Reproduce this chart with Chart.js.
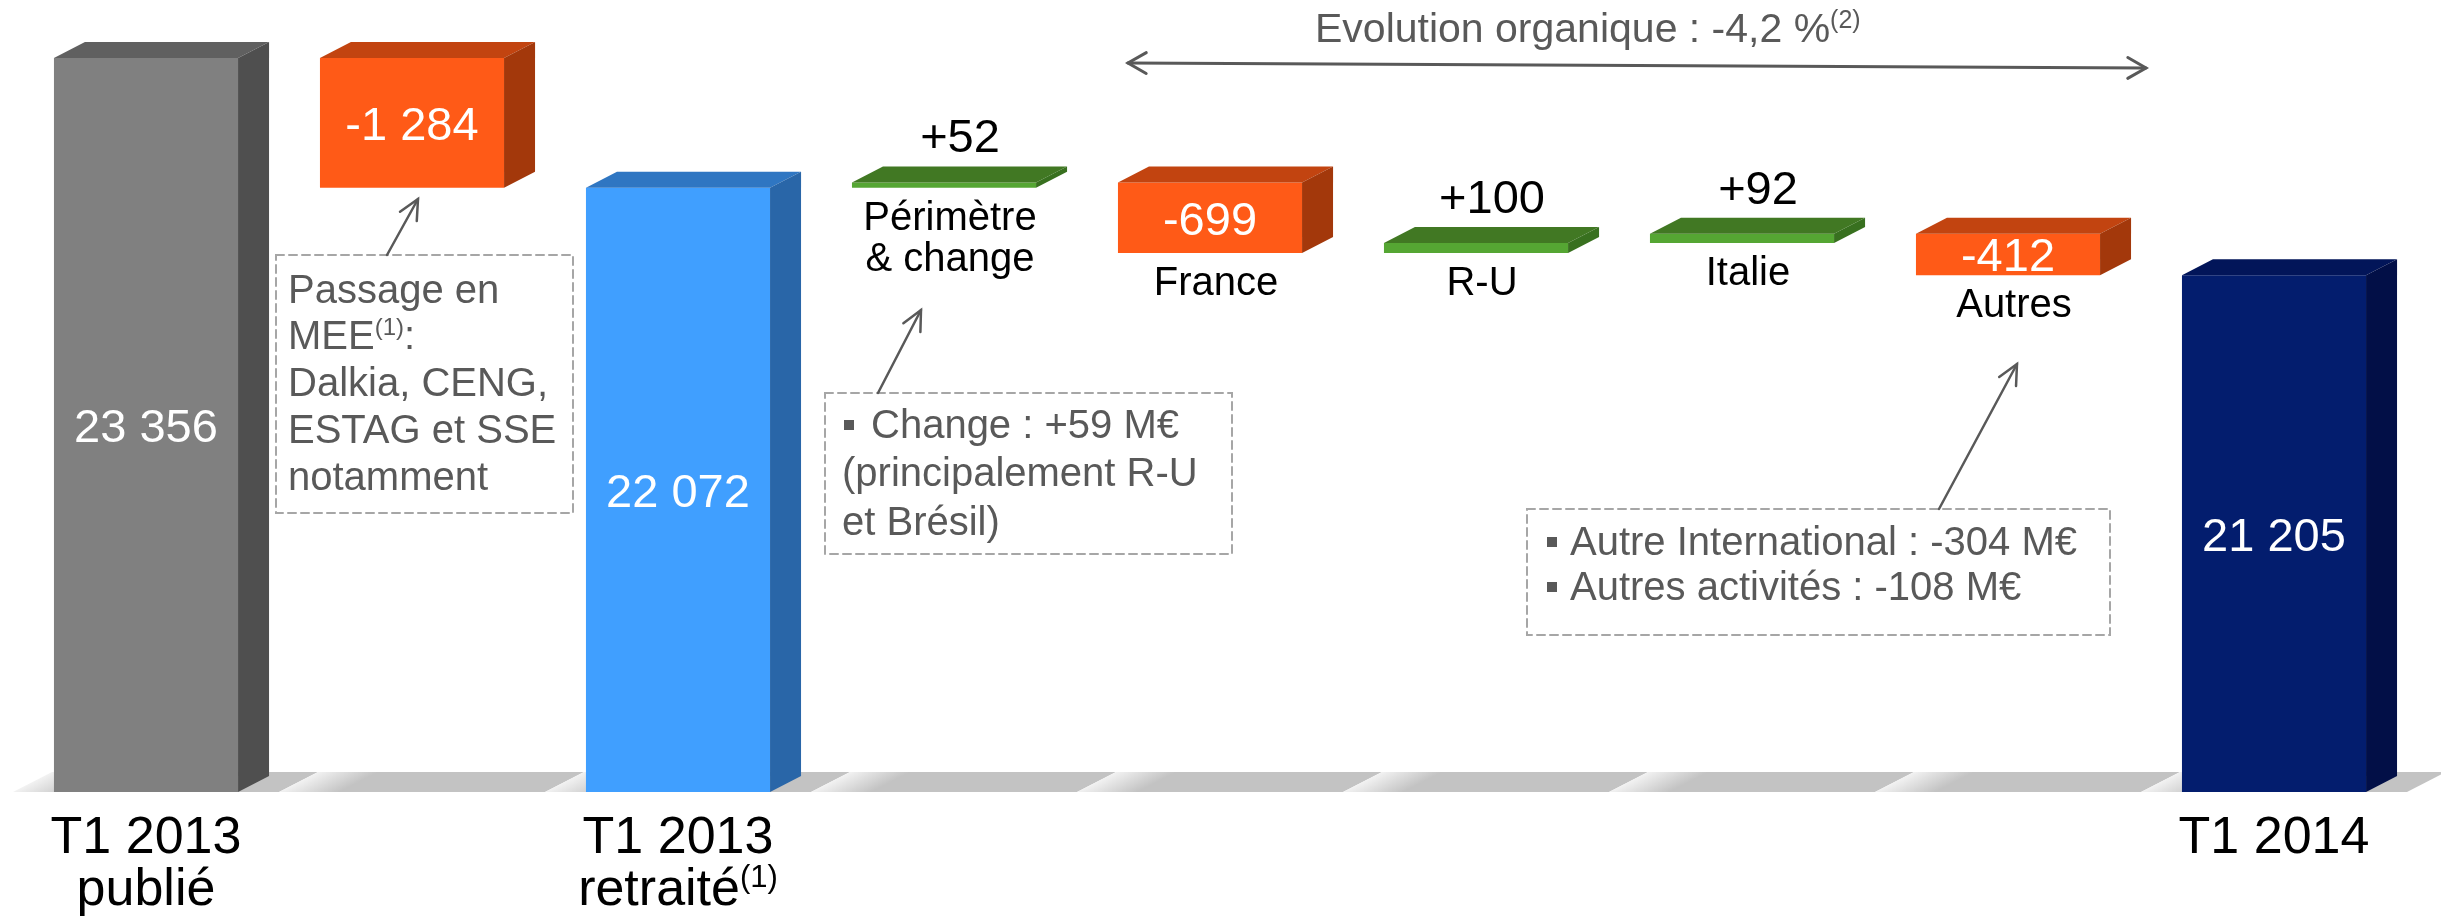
<!DOCTYPE html>
<html>
<head>
<meta charset="utf-8">
<script src="https://cdn.jsdelivr.net/npm/chart.js@4.4.0/dist/chart.umd.min.js"></script>
<style>
  html, body { margin: 0; padding: 0; background: #fff; }
  #wrap { width: 2441px; height: 918px; position: relative; }
</style>
</head>
<body>
<div id="wrap"><canvas id="myChart"></canvas></div>
<script>
// values (M€)
const categories = ['T1 2013 publié', 'Passage en MEE', 'T1 2013 retraité', 'Périmètre & change', 'France', 'R-U', 'Italie', 'Autres', 'T1 2014']
const totals = [23356, null, 22072, null, null, null, null, null, 21205]
const variations = [null, -1284, null, 52, -699, 100, 92, -412, null]

// labels
const stepLabels = [null, null, null, ['Périmètre', '& change'], ['France'], ['R-U'], ['Italie'], ['Autres'], null]
const bottomLabels = [
  [[['T1 2013']], [['publié']]],
  null,
  [[['T1 2013']], [['retraité'], ['(1)', true]]],
  null, null, null, null, null,
  [[['T1 2014']]]
]
const yMin = 16090
const yMax = 23930

// colours: front / top / side
const frontColors = ['#808080', '#ff5a17', '#409fff', '#55a633', '#ff5a17', '#55a633', '#55a633', '#ff5a17', '#031d6e']
const topColors = ['#606060', '#c24410', '#2f76c2', '#417823', '#c24410', '#417823', '#417823', '#c24410', '#021559']
const sideColors = ['#4f4f4f', '#a3380b', '#2966a8', '#38701f', '#a3380b', '#38701f', '#38701f', '#a3380b', '#020f47']

const FONT = "'Liberation Sans', Arial, Helvetica, sans-serif"
const GREY = '#595959'
const DX = 31, DY = 16

// floating bars for the waterfall
let level = 0
const barData = categories.map((c, i) => {
  if (totals[i] !== null) { level = totals[i]; return totals[i] }
  const start = level
  level += variations[i]
  return [start, level]
})

function fmt(v, signed) {
  const s = Math.abs(v).toString().replace(/\B(?=(\d{3})+(?!\d))/g, ' ')
  return (v < 0 ? '-' : (signed ? '+' : '')) + s
}

// text with superscript parts: [[text, sup], ...]
function drawParts(ctx, parts, x, y, size, color, align) {
  const supSize = Math.round(size * 0.6)
  let total = 0
  const widths = parts.map(p => {
    ctx.font = (p[1] ? supSize : size) + 'px ' + FONT
    const w = ctx.measureText(p[0]).width
    total += w
    return w
  })
  let cx = align === 'center' ? x - total / 2 : x
  ctx.fillStyle = color
  ctx.textAlign = 'left'
  ctx.textBaseline = 'alphabetic'
  parts.forEach((p, k) => {
    ctx.font = (p[1] ? supSize : size) + 'px ' + FONT
    ctx.fillText(p[0], cx, p[1] ? y - size * 0.34 : y)
    cx += widths[k]
  })
}

function poly(ctx, pts, color) {
  ctx.beginPath()
  ctx.moveTo(pts[0][0], pts[0][1])
  for (let k = 1; k < pts.length; k++) ctx.lineTo(pts[k][0], pts[k][1])
  ctx.closePath()
  ctx.fillStyle = color
  ctx.fill()
}

function arrowHead(ctx, x1, y1, x2, y2, len, spread) {
  const a = Math.atan2(y2 - y1, x2 - x1)
  ctx.beginPath()
  ctx.moveTo(x2 - len * Math.cos(a - spread), y2 - len * Math.sin(a - spread))
  ctx.lineTo(x2, y2)
  ctx.lineTo(x2 - len * Math.cos(a + spread), y2 - len * Math.sin(a + spread))
  ctx.stroke()
}

// annotation boxes (layout in px)
const notes = [
  { box: [276, 255, 573, 513], from: [387, 255], to: [418, 199], lines: [
    { x: 288, y: 303, parts: [['Passage en']] },
    { x: 288, y: 349, parts: [['MEE'], ['(1)', true], [':']] },
    { x: 288, y: 396, parts: [['Dalkia, CENG,']] },
    { x: 288, y: 443, parts: [['ESTAG et SSE']] },
    { x: 288, y: 490, parts: [['notamment']] }
  ] },
  { box: [825, 393, 1232, 554], from: [878, 393], to: [921, 310], lines: [
    { x: 871, y: 438, bullet: 844, parts: [['Change : +59 M€']] },
    { x: 842, y: 486, parts: [['(principalement R-U']] },
    { x: 842, y: 535, parts: [['et Brésil)']] }
  ] },
  { box: [1527, 509, 2110, 635], from: [1939, 509], to: [2017, 364], lines: [
    { x: 1570, y: 555, bullet: 1547, parts: [['Autre International : -304 M€']] },
    { x: 1570, y: 600, bullet: 1547, parts: [['Autres activités : -108 M€']] }
  ] }
]

const floorPlugin = {
  id: 'floor',
  beforeDatasetsDraw(chart) {
    const { ctx, chartArea: a } = chart
    const w = (a.right - a.left) / categories.length
    const yb = a.bottom, yt = a.bottom - 20, fx = 39
    ctx.save()
    for (let i = 0; i < categories.length; i++) {
      const x0 = a.left + i * w, x1 = x0 + w
      const g = ctx.createLinearGradient(x0, yb, x0 + 12.5, yb + 24.4)
      g.addColorStop(0, '#f2f2f2')
      g.addColorStop(1, '#c3c3c3')
      poly(ctx, [[x0, yb], [x1, yb], [x1 + fx, yt], [x0 + fx, yt]], g)
    }
    ctx.restore()
  }
}

const depthPlugin = {
  id: 'depth',
  afterDatasetsDraw(chart) {
    const { ctx, chartArea: a } = chart
    ctx.save()
    chart.getDatasetMeta(0).data.forEach((bar, i) => {
      const p = bar.getProps(['x', 'y', 'base', 'width'], true)
      const l = p.x - p.width / 2, r = p.x + p.width / 2
      const top = Math.min(p.y, p.base)
      const bot = Math.min(Math.max(p.y, p.base), a.bottom)
      poly(ctx, [[l, top], [l + DX, top - DY], [r + DX, top - DY], [r, top]], topColors[i])
      poly(ctx, [[r, top], [r + DX, top - DY], [r + DX, bot - DY], [r, bot]], sideColors[i])
    })
    ctx.restore()
  }
}

const labelPlugin = {
  id: 'labels',
  afterDraw(chart) {
    const { ctx, chartArea: a } = chart
    const bars = chart.getDatasetMeta(0).data
    ctx.save()
    bars.forEach((bar, i) => {
      const p = bar.getProps(['x', 'y', 'base', 'width'], true)
      const top = Math.min(p.y, p.base)
      const bot = Math.min(Math.max(p.y, p.base), a.bottom)
      const isTotal = totals[i] !== null
      const v = isTotal ? totals[i] : variations[i]
      ctx.font = '47px ' + FONT
      ctx.textAlign = 'center'
      ctx.textBaseline = 'alphabetic'
      if (isTotal || v < 0) {
        ctx.fillStyle = '#ffffff'
        ctx.fillText(fmt(v, !isTotal), p.x, (top + bot) / 2 + 17)
      } else {
        ctx.fillStyle = '#000000'
        ctx.fillText(fmt(v, true), p.x + 16, top - 30)
      }
      if (stepLabels[i]) {
        ctx.font = '40px ' + FONT
        ctx.fillStyle = '#000000'
        stepLabels[i].forEach((ln, k) => ctx.fillText(ln, p.x + 6, bot + 42 + k * 41))
      }
      if (bottomLabels[i]) {
        bottomLabels[i].forEach((parts, k) => drawParts(ctx, parts, p.x, a.bottom + 61 + k * 52, 52, '#000000', 'center'))
      }
    })

    // organic evolution arrow
    ctx.strokeStyle = GREY
    ctx.lineWidth = 3
    ctx.lineCap = 'round'
    ctx.beginPath()
    ctx.moveTo(1128, 63)
    ctx.lineTo(2146, 68)
    ctx.stroke()
    arrowHead(ctx, 2146, 68, 1128, 63, 21, 0.52)
    arrowHead(ctx, 1128, 63, 2146, 68, 21, 0.52)
    drawParts(ctx, [['Evolution organique : -4,2 %'], ['(2)', true]], 1315, 42, 41, GREY, 'left')

    // annotation boxes
    notes.forEach(n => {
      const [x0, y0, x1, y1] = n.box
      ctx.setLineDash([8, 5])
      ctx.lineWidth = 2
      ctx.strokeStyle = '#a6a6a6'
      ctx.strokeRect(x0, y0, x1 - x0, y1 - y0)
      ctx.setLineDash([])
      ctx.strokeStyle = GREY
      ctx.lineWidth = 2.5
      ctx.beginPath()
      ctx.moveTo(n.from[0], n.from[1])
      ctx.lineTo(n.to[0], n.to[1])
      ctx.stroke()
      arrowHead(ctx, n.from[0], n.from[1], n.to[0], n.to[1], 22, 0.45)
      n.lines.forEach(ln => {
        if (ln.bullet) {
          ctx.fillStyle = GREY
          ctx.fillRect(ln.bullet, ln.y - 18, 10, 10)
        }
        drawParts(ctx, ln.parts, ln.x, ln.y, 40, GREY, 'left')
      })
    })
    ctx.restore()
  }
}

const config = {
  type: 'bar',
  data: {
    labels: categories,
    datasets: [{
      data: barData,
      backgroundColor: frontColors,
      borderWidth: 0,
      barPercentage: 0.692,
      categoryPercentage: 1
    }]
  },
  options: {
    responsive: true,
    maintainAspectRatio: false,
    animation: false,
    events: [],
    layout: { padding: { left: 13, right: 34, top: 0, bottom: 126 } },
    scales: {
      x: { display: false },
      y: { display: false, min: yMin, max: yMax }
    },
    plugins: {
      legend: { display: false },
      tooltip: { enabled: false }
    }
  },
  plugins: [floorPlugin, depthPlugin, labelPlugin]
}

new Chart(document.querySelector('#myChart'), config)
</script>
</body>
</html>
